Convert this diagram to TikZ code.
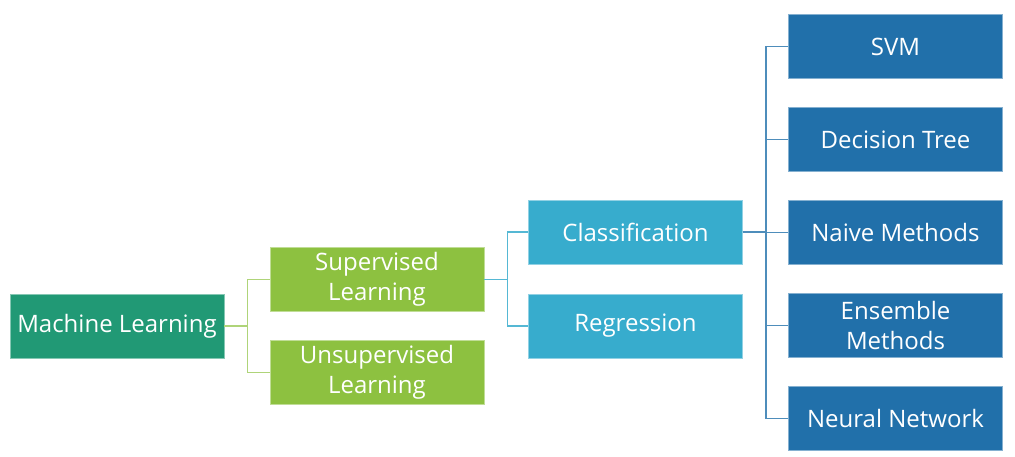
\documentclass[tikz,border=0pt]{standalone}
\usepackage{fontspec}
\setmainfont{Open Sans}
\usepackage{xcolor}
\usetikzlibrary{math}
\usetikzlibrary{calc}

\definecolor{mlgreen}{RGB}{33,153,117}
\definecolor{supgreen}{RGB}{141,193,64}
\definecolor{taskcyan}{RGB}{55,172,205}
\definecolor{algblue}{RGB}{33,112,170}

\tikzset{
  box/.style={minimum width=214pt, minimum height=64pt, inner sep=0pt,
    text=white, align=center, font=\fontsize{24}{30}\selectfont, line width=0.8pt},
  mlbox/.style={box, fill=mlgreen, draw=mlgreen!55!white},
  supbox/.style={box, fill=supgreen, draw=supgreen!55!white},
  taskbox/.style={box, fill=taskcyan, draw=taskcyan!55!white},
  algbox/.style={box, fill=algblue, draw=algblue!55!white},
  link/.style={line width=1.2pt},
}

\begin{document}
\begin{tikzpicture}[x=1pt,y=-1pt]

  \tikzmath{
    \fork = 23;   % length of the stub before a fork
  }

  \useasboundingbox (0,0) rectangle (1015,456);

  % boxes
  \node[mlbox]   (ml)    at (117,326)   {Machine Learning};
  \node[supbox]  (sup)   at (377,279.5) {Supervised\\Learning};
  \node[supbox]  (unsup) at (377,372.5) {Unsupervised\\Learning};
  \node[taskbox] (cls)   at (635.5,232) {Classification};
  \node[taskbox] (reg)   at (635.5,326) {Regression};
  \node[algbox]  (svm)   at (895.5,46.5)  {SVM};
  \node[algbox]  (dtree) at (895.5,139.5) {Decision Tree};
  \node[algbox]  (naive) at (895.5,232.5) {Naive Methods};
  \node[algbox]  (ens)   at (895.5,325.5) {Ensemble\\Methods};
  \node[algbox]  (nnet)  at (895.5,418.5) {Neural Network};

  % machine learning -> learning types
  \draw[link, supgreen!70!white] (ml.east) -- ++(\fork,0) |- (sup.west);
  \draw[link, supgreen!70!white] (ml.east) -- ++(\fork,0) |- (unsup.west);

  % supervised -> tasks
  \draw[link, taskcyan!85!white] (sup.east) -- ++(\fork,0) |- (cls.west);
  \draw[link, taskcyan!85!white] (sup.east) -- ++(\fork,0) |- (reg.west);

  % classification -> methods
  \foreach \alg in {svm,dtree,naive,ens,nnet}
    \draw[link, algblue!80!white] (cls.east) -- ++(\fork,0) |- (\alg.west);

\end{tikzpicture}
\end{document}
